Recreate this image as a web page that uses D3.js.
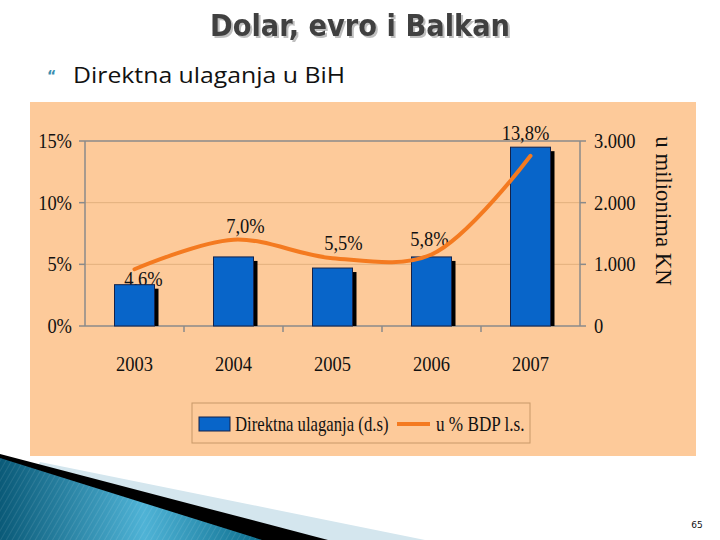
<!DOCTYPE html>
<html>
<head>
<meta charset="utf-8">
<script src="https://cdn.jsdelivr.net/npm/d3@7"></script>
<style>
  html, body { margin: 0; padding: 0; background: #fff; }
  svg { display: block; }
</style>
</head>
<body>
<div id="chart"></div>
<script>
var years = ['2003', '2004', '2005', '2006', '2007'];
var ulaganja = [670, 1120, 940, 1120, 2900];          // u milionima KM (d.s)
var bdpPct = [4.6, 7.0, 5.5, 5.8, 13.8];              // u % BDP (l.s)
var bdpLabels = ['4,6%', '7,0%', '5,5%', '5,8%', '13,8%'];
var leftTicks = [0, 5, 10, 15];
var rightTicks = [0, 1000, 2000, 3000];
var rightTickLabels = ['0', '1.000', '2.000', '3.000'];

var width = 720, height = 540;
var plot = { left: 85, right: 580, top: 141, bottom: 326 };
var serif = '"Liberation Serif", "Times New Roman", serif';
var sx = 0.84; // the slide squeezes the Times text horizontally

var svg = d3.select('#chart').append('svg')
  .attr('width', width)
  .attr('height', height);

var defs = svg.append('defs');
var grad = defs.append('linearGradient').attr('id', 'swoosh')
  .attr('x1', '0').attr('y1', '0').attr('x2', '1').attr('y2', '0');
grad.append('stop').attr('offset', '0%').attr('stop-color', '#0a5a78');
grad.append('stop').attr('offset', '55%').attr('stop-color', '#4fb3d6');
grad.append('stop').attr('offset', '100%').attr('stop-color', '#0d6f8f');

var stripes = defs.append('pattern').attr('id', 'stripes')
  .attr('width', 5).attr('height', 5)
  .attr('patternUnits', 'userSpaceOnUse')
  .attr('patternTransform', 'rotate(30)');
stripes.append('line')
  .attr('x1', 0).attr('y1', 0).attr('x2', 0).attr('y2', 5)
  .attr('stroke', '#ffffff').attr('stroke-opacity', 0.12).attr('stroke-width', 1.5);

var shadow = defs.append('filter').attr('id', 'tshadow')
  .attr('x', '-5%').attr('y', '-20%').attr('width', '110%').attr('height', '140%');
shadow.append('feDropShadow')
  .attr('dx', 2).attr('dy', 2).attr('stdDeviation', 0.6)
  .attr('flood-color', '#000').attr('flood-opacity', 0.25);

// title
svg.append('text')
  .attr('x', 360).attr('y', 36)
  .attr('text-anchor', 'middle')
  .attr('font-family', '"DejaVu Sans", sans-serif')
  .attr('font-weight', 'bold')
  .attr('font-size', 31)
  .attr('textLength', 300).attr('lengthAdjust', 'spacingAndGlyphs')
  .attr('fill', '#404040')
  .attr('filter', 'url(#tshadow)')
  .text('Dolar, evro i Balkan');

// bullet + subtitle
svg.append('text')
  .attr('x', 47).attr('y', 80)
  .attr('font-family', '"DejaVu Sans", sans-serif')
  .attr('font-size', 14)
  .attr('font-weight', 'bold')
  .attr('fill', '#3a8fb0')
  .text('\u201C');
svg.append('text')
  .attr('x', 73).attr('y', 83)
  .attr('font-family', '"Open Sans", "DejaVu Sans", sans-serif')
  .attr('font-size', 21)
  .attr('textLength', 272).attr('lengthAdjust', 'spacingAndGlyphs')
  .attr('fill', '#111')
  .text('Direktna ulaganja u BiH');

// chart panel
svg.append('rect')
  .attr('x', 30).attr('y', 102)
  .attr('width', 666).attr('height', 354)
  .attr('fill', '#fdca9a');

var x = d3.scaleBand()
  .domain(years)
  .range([plot.left, plot.right]);

var yL = d3.scaleLinear().domain([0, 15]).range([plot.bottom, plot.top]);
var yR = d3.scaleLinear().domain([0, 3000]).range([plot.bottom, plot.top]);

// gridlines
svg.append('g').selectAll('line')
  .data(leftTicks.filter(function(d) { return d > 0 && d < 15; }))
  .enter().append('line')
  .attr('x1', plot.left).attr('x2', plot.right)
  .attr('y1', function(d) { return yL(d); })
  .attr('y2', function(d) { return yL(d); })
  .attr('stroke', '#e2b07e')
  .attr('stroke-width', 1);

// frame
var frame = svg.append('g').attr('stroke', '#8a8a8a').attr('stroke-width', 1.5).attr('fill', 'none');
frame.append('line').attr('x1', plot.left).attr('x2', plot.right).attr('y1', plot.top).attr('y2', plot.top);
frame.append('line').attr('x1', plot.left).attr('x2', plot.left).attr('y1', plot.top).attr('y2', plot.bottom);
frame.append('line').attr('x1', plot.right).attr('x2', plot.right).attr('y1', plot.top).attr('y2', plot.bottom);
frame.append('line').attr('x1', plot.left).attr('x2', plot.right).attr('y1', plot.bottom).attr('y2', plot.bottom);

// tick marks
frame.selectAll('.lt').data(leftTicks).enter().append('line')
  .attr('x1', plot.left - 6).attr('x2', plot.left)
  .attr('y1', function(d) { return yL(d); }).attr('y2', function(d) { return yL(d); });
frame.selectAll('.rt').data(rightTicks).enter().append('line')
  .attr('x1', plot.right).attr('x2', plot.right + 6)
  .attr('y1', function(d) { return yR(d); }).attr('y2', function(d) { return yR(d); });
frame.selectAll('.bt').data(years.slice(1)).enter().append('line')
  .attr('x1', function(d) { return x(d); }).attr('x2', function(d) { return x(d); })
  .attr('y1', plot.bottom).attr('y2', plot.bottom + 6);

function squeezed(g, tx, ty, str, anchor, rot, size, scale) {
  var t = 'translate(' + tx + ',' + ty + ')' + (rot ? ' rotate(' + rot + ')' : '') +
    ' scale(' + (scale || sx) + ',1)';
  return g.append('g').attr('transform', t)
    .append('text')
    .attr('text-anchor', anchor || 'middle')
    .attr('font-family', serif)
    .attr('font-size', size || 22)
    .attr('fill', '#111')
    .text(str);
}

var labels = svg.append('g');
leftTicks.forEach(function(d) {
  squeezed(labels, 72, yL(d) + 7, d + '%', 'end');
});
rightTicks.forEach(function(d, i) {
  squeezed(labels, 594, yR(d) + 7, rightTickLabels[i], 'start');
});
years.forEach(function(d) {
  squeezed(labels, x(d) + x.bandwidth() / 2, 371, d, 'middle');
});
squeezed(labels, 656, 211, 'u milionima KN', 'middle', 90, 24, 0.95);

// bars (with offset black shadow)
var barW = 40;
var bars = svg.append('g');
bars.selectAll('.shadow')
  .data(ulaganja).enter().append('rect')
  .attr('x', function(d, i) { return x(years[i]) + x.bandwidth() / 2 - barW / 2 + 4; })
  .attr('y', function(d) { return yR(d) + 4; })
  .attr('width', barW)
  .attr('height', function(d) { return plot.bottom - yR(d) - 4; })
  .attr('fill', '#000');
bars.selectAll('.bar')
  .data(ulaganja).enter().append('rect')
  .attr('x', function(d, i) { return x(years[i]) + x.bandwidth() / 2 - barW / 2; })
  .attr('y', function(d) { return yR(d); })
  .attr('width', barW)
  .attr('height', function(d) { return plot.bottom - yR(d); })
  .attr('fill', '#0865c9')
  .attr('stroke', '#14224a')
  .attr('stroke-width', 1);

// line, smoothed like the spreadsheet
var line = d3.line()
  .x(function(d, i) { return x(years[i]) + x.bandwidth() / 2; })
  .y(function(d) { return yL(d); })
  .curve(d3.curveCatmullRom.alpha(0.5));

svg.append('path')
  .datum(bdpPct)
  .attr('d', line)
  .attr('fill', 'none')
  .attr('stroke', '#f47a20')
  .attr('stroke-width', 4)
  .attr('stroke-linecap', 'round');

// value labels
var off = [[9, 17], [12, -7], [11, -8], [-2, -8], [-5, -16]];
bdpPct.forEach(function(d, i) {
  squeezed(labels, x(years[i]) + x.bandwidth() / 2 + off[i][0], yL(d) + off[i][1], bdpLabels[i], 'middle');
});

// legend
var lg = svg.append('g');
lg.append('rect')
  .attr('x', 192).attr('y', 403)
  .attr('width', 338).attr('height', 40)
  .attr('fill', 'none')
  .attr('stroke', '#c89868')
  .attr('stroke-width', 1);
lg.append('rect')
  .attr('x', 199).attr('y', 417)
  .attr('width', 31).attr('height', 14)
  .attr('fill', '#0865c9')
  .attr('stroke', '#14224a');
squeezed(lg, 235, 431, 'Direktna ulaganja (d.s)', 'start', 0, 22, 0.76);
lg.append('line')
  .attr('x1', 397).attr('x2', 430)
  .attr('y1', 424).attr('y2', 424)
  .attr('stroke', '#f47a20')
  .attr('stroke-width', 4);
squeezed(lg, 436, 431, 'u % BDP l.s.', 'start', 0, 22, 0.78);

// bottom-left slide decoration
var deco = svg.append('g');
deco.append('polygon')
  .attr('points', '40,462 425,540 0,540')
  .attr('fill', '#d4e6ee');
deco.append('polygon')
  .attr('points', '0,454 328,540 0,540')
  .attr('fill', '#000');
deco.append('polygon')
  .attr('points', '0,458 262,540 0,540')
  .attr('fill', 'url(#swoosh)');
deco.append('polygon')
  .attr('points', '0,458 262,540 0,540')
  .attr('fill', 'url(#stripes)');

svg.append('text')
  .attr('x', 697).attr('y', 528)
  .attr('text-anchor', 'middle')
  .attr('font-family', '"DejaVu Sans", sans-serif')
  .attr('font-size', 9)
  .attr('fill', '#111')
  .text('65');
</script>
</body>
</html>
